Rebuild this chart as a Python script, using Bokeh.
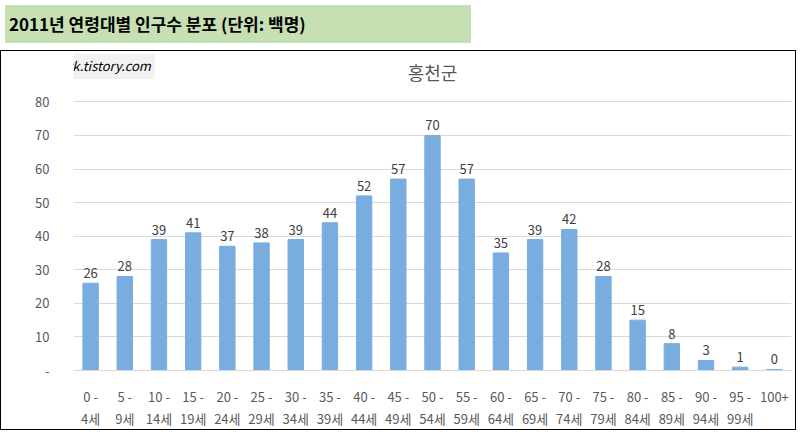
from bokeh.plotting import figure
from bokeh.models import Div, Label, ColumnDataSource, LabelSet, FixedTicker
from bokeh.core.properties import value
from bokeh.layouts import column
from bokeh.embed import file_html
from bokeh.resources import INLINE

categories = ["0 -\n4세", "5 -\n9세", "10 -\n14세", "15 -\n19세", "20 -\n24세", "25 -\n29세",
              "30 -\n34세", "35 -\n39세", "40 -\n44세", "45 -\n49세", "50 -\n54세", "55 -\n59세",
              "60 -\n64세", "65 -\n69세", "70 -\n74세", "75 -\n79세", "80 -\n84세", "85 -\n89세",
              "90 -\n94세", "95 -\n99세", "100+"]
values = [26, 28, 39, 41, 37, 38, 39, 44, 52, 57, 70, 57, 35, 39, 42, 28, 15, 8, 3, 1, 0.3]
labels = [str(round(v)) for v in values]

FONT = "Noto Sans CJK KR"

header = Div(text="2011년 연령대별 인구수 분포 (단위: 백명)", width=466, height=38,
             styles={"background-color": "#c6e0b4", "font-family": FONT, "font-weight": "bold",
                     "font-size": "17px", "color": "#000", "padding-left": "4px",
                     "line-height": "38px", "box-sizing": "border-box"})

src = ColumnDataSource(dict(x=categories, y=values, t=labels))
p = figure(x_range=categories, y_range=(0, 94.4), width=796, height=380,
           output_backend="svg", toolbar_location=None,
           min_border_left=72, min_border_right=6, min_border_top=2, min_border_bottom=60)
p.outline_line_color = None
p.border_fill_color = "white"
p.vbar(x="x", top="y", width=0.45, source=src, color="#7aaddf")
p.add_layout(LabelSet(x="x", y="y", text="t", source=src, y_offset=5, text_align="center",
                      text_font_size="13px", text_color="#404040", text_font=value(FONT)))
p.xgrid.grid_line_color = None
p.ygrid.grid_line_color = "#d9d9d9"
p.yaxis.ticker = FixedTicker(ticks=list(range(0, 81, 10)))
p.yaxis.major_label_overrides = {0: "-"}
for ax in (p.xaxis, p.yaxis):
    ax.axis_line_color = None
    ax.major_tick_line_color = None
    ax.minor_tick_line_color = None
    ax.major_label_text_color = "#595959"
    ax.major_label_text_font_size = "13px"
    ax.major_label_text_font = FONT
p.xaxis.axis_line_color = "#d9d9d9"
p.yaxis.major_label_standoff = 18
p.xaxis.major_label_standoff = 10

p.add_layout(Label(x=10.5, y=89, text="홍천군", text_align="center", text_baseline="middle",
                   text_font_size="18px", text_color="#595959", text_font=FONT))
p.add_layout(Label(x=-2.05, y=90.8, text="lifeandwork.tistory.com", text_baseline="middle",
                   text_font_size="13px", text_font_style="italic", text_color="#000",
                   text_font=FONT, background_fill_color="#f2f2f2", padding=4))
p.add_layout(Label(x=-1.3, y=79, text="명", angle=-1.5708, text_font_size="9px",
                   text_color="#595959", text_font=FONT))

layout = column(header, p, spacing=2)
p.styles = {"border": "1px solid #000"}
open("out.html", "w").write(file_html(layout, INLINE))
